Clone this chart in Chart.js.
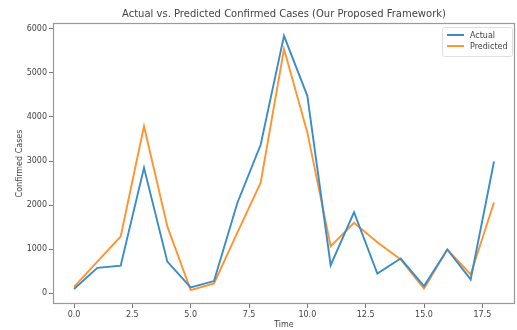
<!DOCTYPE html>
<html>
<head>
<meta charset="utf-8">
<script src="https://cdn.jsdelivr.net/npm/chart.js@4.4.0/dist/chart.umd.min.js"></script>
<style>
  html, body { margin: 0; padding: 0; background: #fff; }
  #wrap { width: 517px; height: 330px; }
</style>
</head>
<body>
<div id="wrap"><canvas id="casesChart" width="517" height="330"></canvas></div>
<script>
// Time steps
const timeSteps = [0, 1, 2, 3, 4, 5, 6, 7, 8, 9, 10, 11, 12, 13, 14, 15, 16, 17, 18];

// Confirmed cases
const actualCases = [100, 580, 630, 2850, 720, 135, 280, 2050, 3370, 5840, 4480, 640, 1840, 450, 790, 165, 995, 317, 2990];
const predictedCases = [150, 720, 1290, 3790, 1520, 75, 225, 1380, 2510, 5540, 3650, 1070, 1600, 1160, 770, 110, 995, 430, 2060];

// Tick labels
const xTickValues = [0, 2.5, 5, 7.5, 10, 12.5, 15, 17.5];
const yTickValues = [0, 1000, 2000, 3000, 4000, 5000, 6000];

const chartTitle = 'Actual vs. Predicted Confirmed Cases (Our Proposed Framework)';
const textColor = '#444';
const fontFamily = '"DejaVu Sans", sans-serif';

function toPoints(values) {
    return timeSteps.map((t, i) => ({ x: t, y: values[i] }));
}

// Title over the plot, box around the plot area and a small legend in the top-right corner
const framePlugin = {
    id: 'frame',
    afterDatasetsDraw(chart) {
        const { ctx, chartArea: a } = chart;
        ctx.save();
        ctx.strokeStyle = '#999';
        ctx.lineWidth = 1.2;
        ctx.strokeRect(a.left + 0.5, a.top + 0.5, a.right - a.left - 1, a.bottom - a.top - 1);

        // title
        ctx.fillStyle = textColor;
        ctx.font = '10px ' + fontFamily;
        ctx.textAlign = 'center';
        ctx.textBaseline = 'middle';
        ctx.fillText(chartTitle, (a.left + a.right) / 2, 14);

        // legend
        const w = 70, h = 29;
        const lx = a.right - w - 3, ly = a.top + 4;
        ctx.fillStyle = 'rgba(255,255,255,0.8)';
        ctx.strokeStyle = '#e0e0e0';
        ctx.lineWidth = 1;
        ctx.beginPath();
        ctx.roundRect(lx + 0.5, ly + 0.5, w, h, 2);
        ctx.fill();
        ctx.stroke();
        ctx.font = '8px ' + fontFamily;
        ctx.textAlign = 'left';
        chart.data.datasets.forEach((ds, i) => {
            const yy = ly + 8 + i * 11;
            ctx.strokeStyle = ds.borderColor;
            ctx.lineWidth = 2;
            ctx.beginPath();
            ctx.moveTo(lx + 5, yy);
            ctx.lineTo(lx + 22, yy);
            ctx.stroke();
            ctx.fillStyle = textColor;
            ctx.fillText(ds.label, lx + 28, yy + 0.5);
        });
        ctx.restore();
    }
};

const ctx = document.getElementById('casesChart').getContext('2d');
const casesChart = new Chart(ctx, {
    type: 'line',
    data: {
        datasets: [{
            label: 'Actual',
            data: toPoints(actualCases),
            borderColor: '#3b8ccb',
            borderWidth: 1.9,
            pointRadius: 0,
            fill: false,
            tension: 0
        }, {
            label: 'Predicted',
            data: toPoints(predictedCases),
            borderColor: '#ff9430',
            borderWidth: 1.9,
            pointRadius: 0,
            fill: false,
            tension: 0
        }]
    },
    options: {
        responsive: false,
        animation: false,
        events: [],
        layout: { padding: { left: 0, right: 2, top: 23, bottom: 0 } },
        plugins: {
            legend: { display: false },
            tooltip: { enabled: false },
            title: { display: false }
        },
        scales: {
            x: {
                type: 'linear',
                min: -0.9,
                max: 18.9,
                afterBuildTicks: axis => { axis.ticks = xTickValues.map(v => ({ value: v })); },
                afterFit: axis => { axis.height = 26; },
                ticks: {
                    includeBounds: false,
                    color: textColor,
                    font: { family: fontFamily, size: 8 },
                    padding: 2,
                    maxRotation: 0,
                    callback: v => v.toFixed(1)
                },
                grid: { drawOnChartArea: false, drawTicks: true, tickLength: 4, color: '#777' },
                border: { display: false },
                title: {
                    display: true,
                    text: 'Time',
                    color: textColor,
                    font: { family: fontFamily, size: 8 },
                    padding: { top: 0, bottom: 0 }
                }
            },
            y: {
                min: -240,
                max: 6130,
                afterBuildTicks: axis => { axis.ticks = yTickValues.map(v => ({ value: v })); },
                afterFit: axis => { axis.width = 53; },
                ticks: {
                    includeBounds: false,
                    color: textColor,
                    font: { family: fontFamily, size: 8 },
                    padding: 2,
                    callback: v => String(v)
                },
                grid: { drawOnChartArea: false, drawTicks: true, tickLength: 4, color: '#777' },
                border: { display: false },
                title: {
                    display: true,
                    text: 'Confirmed Cases',
                    color: textColor,
                    font: { family: fontFamily, size: 8 },
                    padding: { top: 15, bottom: 0 }
                }
            }
        }
    },
    plugins: [framePlugin]
});
</script>
</body>
</html>
